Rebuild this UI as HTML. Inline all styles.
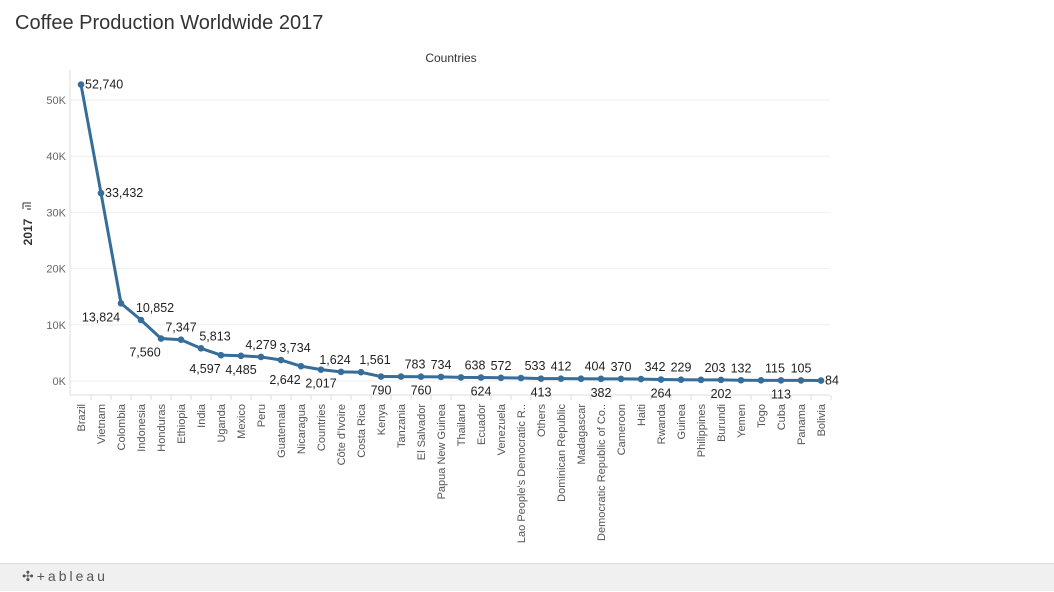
<!DOCTYPE html>
<html><head><meta charset="utf-8">
<style>
body{margin:0;background:#fff;font-family:"Liberation Sans",sans-serif;}
#wrap{position:relative;width:1054px;height:592px;overflow:hidden;}
#title{position:absolute;left:15px;top:12px;font-size:20px;color:#333;}
#footer{position:absolute;left:0;top:563px;width:1054px;height:27px;background:#f0f0f0;border-top:1px solid #ddd;}
#logo{position:absolute;left:22px;top:4px;font-size:14px;color:#555;letter-spacing:3px;}
</style></head>
<body><div id="wrap">
<div id="title">Coffee Production Worldwide 2017</div>
<svg id="chart" width="1054" height="560" style="position:absolute;left:0;top:0"></svg>
<div id="footer"><span id="logo">✣+ableau</span></div>
</div>
<script>
const categories=["Brazil","Vietnam","Colombia","Indonesia","Honduras","Ethiopia","India","Uganda","Mexico","Peru","Guatemala","Nicaragua","Countries","Côte d'Ivoire","Costa Rica","Kenya","Tanzania","El Salvador","Papua New Guinea","Thailand","Ecuador","Venezuela","Lao People's Democratic R..","Others","Dominican Republic","Madagascar","Democratic Republic of Co..","Cameroon","Haiti","Rwanda","Guinea","Philippines","Burundi","Yemen","Togo","Cuba","Panama","Bolivia"];
const values=[52740,33432,13824,10852,7560,7347,5813,4597,4485,4279,3734,2642,2017,1624,1561,790,783,760,734,638,624,572,533,413,412,404,382,370,342,264,229,203,202,132,115,113,105,84];
const labelPos=["r","r","l","ar","bl","a","ar","bl","b","a","ar","bl","b","al","ar","b","ar","b","a","ar","b","a","ar","b","a","ar","b","a","ar","b","a","ar","b","a","ar","b","a","r"];
const yTicks=[0,10000,20000,30000,40000,50000];
const yTickLabels=["0K","10K","20K","30K","40K","50K"];
const svg=document.getElementById('chart');
const NS='http://www.w3.org/2000/svg';
const x0=81,step=20,yBase=381,yScale=56.2/10000;
const X=i=>x0+i*step;
const Y=v=>yBase-v*yScale;
function mk(t,a,txt){const e=document.createElementNS(NS,t);for(const k in a)e.setAttribute(k,a[k]);if(txt!=null)e.textContent=txt;svg.appendChild(e);return e;}
let e=mk('text',{x:451,y:62,'text-anchor':'middle','font-size':12,fill:'#333'},'Countries');


e=mk('text',{x:32,y:232,'text-anchor':'middle','font-size':12,'font-weight':'bold',fill:'#333',transform:'rotate(-90 32 232)'},'2017');


e=mk('path',{d:'M23,203h8M25,206h6M27,209h4M23,203v6',stroke:'#555','stroke-width':1.2,fill:'none'});


yTicks.forEach((t,i)=>{
 const g=mk('line',{x1:70,x2:830,y1:Y(t),y2:Y(t),stroke:'#eee','stroke-width':1});
 
 
 const l=mk('text',{x:66,y:Y(t)+4,'text-anchor':'end','font-size':11,fill:'#666'},yTickLabels[i]);
 
 
});
e=mk('line',{x1:70,x2:70,y1:70,y2:395,stroke:'#ddd'});


e=mk('line',{x1:70,x2:830,y1:395,y2:395,stroke:'#ddd'});


const path=mk('path',{d:values.map((v,i)=>(i?'L':'M')+X(i)+','+Y(v)).join(''),fill:'none',stroke:'#376d99','stroke-width':3,'stroke-linejoin':'round'});


values.forEach((v,i)=>{
 const tk=mk('line',{x1:X(i)+10,x2:X(i)+10,y1:395,y2:400,stroke:'#ddd'});
 
 
 const c=mk('circle',{cx:X(i),cy:Y(v),r:3.3,fill:'#376d99'});
 
 
 const p=labelPos[i];let a={'font-size':12.5,fill:'#222','text-anchor':'middle'};
 if(p==='r'){a.x=X(i)+4;a.y=Y(v)+4;a['text-anchor']='start';}
 else if(p==='l'){a.x=X(i)-20;a.y=Y(v)+18;}
 else if(p==='a'){a.x=X(i);a.y=Y(v)-8;}
 else if(p==='ar'){a.x=X(i)+14;a.y=Y(v)-8;}
 else if(p==='al'){a.x=X(i)-6;a.y=Y(v)-8;}
 else if(p==='bl'){a.x=X(i)-16;a.y=Y(v)+18;}
 else {a.x=X(i);a.y=Y(v)+18;}
 const t=mk('text',a,v.toLocaleString('en-US'));
 
 
 const cl=mk('text',{x:X(i)+4,y:404,'text-anchor':'end','font-size':11,fill:'#555',transform:`rotate(-90 ${X(i)+4} 404)`},categories[i]);
 
 
});
</script>
</body></html>
